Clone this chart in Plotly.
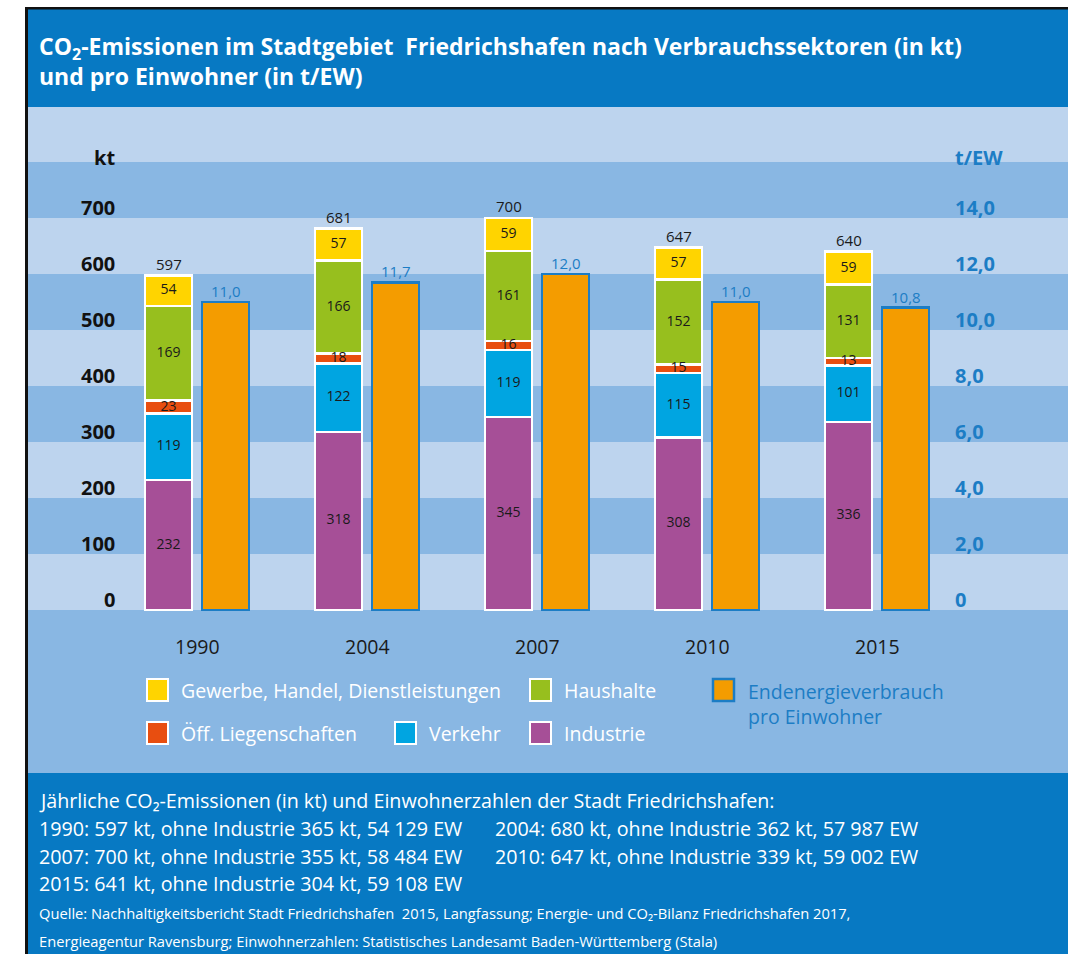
import plotly.graph_objects as go

# ---------------- data ----------------
years = ["1990", "2004", "2007", "2010", "2015"]
industrie = [232, 318, 345, 308, 336]
verkehr = [119, 122, 119, 115, 101]
oeff = [23, 18, 16, 15, 13]
haushalte = [169, 166, 161, 152, 131]
gewerbe = [54, 57, 59, 57, 59]
pro_kopf = [11.0, 11.7, 12.0, 11.0, 10.8]

kt_ticks = [0, 100, 200, 300, 400, 500, 600, 700]
tew_ticks = [0, 2, 4, 6, 8, 10, 12, 14]

sum_total = [597, 680, 700, 647, 641]
sum_ohne_ind = [365, 362, 355, 339, 304]
sum_ew = ["54 129", "57 987", "58 484", "59 002", "59 108"]

series = [
    ("Industrie", industrie, "#A64F97"),
    ("Verkehr", verkehr, "#00A5E1"),
    ("Öff. Liegenschaften", oeff, "#E84E10"),
    ("Haushalte", haushalte, "#97BF1E"),
    ("Gewerbe, Handel, Dienstleistungen", gewerbe, "#FFD400"),
]
ORANGE = "#F49C00"
BLUE_T = "#1C7DC5"
LIGHT = "#BDD4EE"
DARK = "#89B7E3"
HEADER = "#0779C3"

W, H = 1068, 954
FONT = "Open Sans"

# pixel geometry -> axis ranges
X0PX, XSTEP = 197.0, 170.0
Y0PX, PX100 = 610.0, 56.0
xr = [-X0PX / XSTEP, (W - X0PX) / XSTEP]
yr = [-(H - Y0PX) / (PX100 / 100), Y0PX / (PX100 / 100)]
KT_PER_TEW = 50.0
yr2 = [yr[0] / KT_PER_TEW, yr[1] / KT_PER_TEW]

BW = 47 / XSTEP
OFF_S = -52 / XSTEP
OFF_O = 5 / XSTEP


def px(x):
    return x / W


def py(y):
    return 1 - y / H


def ptext(x, y, text, size, color, xanchor="left", align="left"):
    return dict(x=px(x), y=py(y), xref="paper", yref="paper", xanchor=xanchor,
                yanchor="middle", align=align, text=text, showarrow=False,
                font=dict(family=FONT, size=size, color=color))


xs = list(range(len(years)))
fig = go.Figure()

# stacked sector bars
for name, vals, col in series:
    fig.add_trace(go.Bar(
        x=xs, y=vals, name=name, width=BW, offset=OFF_S,
        marker=dict(color=col, line=dict(color="white", width=2.5)),
        hoverinfo="skip", showlegend=False,
    ))

# per-capita bars (right axis)
fig.add_trace(go.Bar(
    x=xs, y=pro_kopf, yaxis="y2", width=BW, offset=OFF_O,
    marker=dict(color=ORANGE, line=dict(color=BLUE_T, width=2.5)),
    hoverinfo="skip", showlegend=False,
))

# segment labels
cum = [0] * len(years)
lx, ly, lt = [], [], []
for name, vals, col in series:
    for i, v in enumerate(vals):
        lx.append(i + OFF_S + BW / 2)
        ly.append(cum[i] + v / 2)
        lt.append(str(v))
        cum[i] += v
fig.add_trace(go.Scatter(
    x=lx, y=ly, text=lt, mode="text", cliponaxis=False,
    textfont=dict(family=FONT, size=14, color="#1a1a1a"),
    hoverinfo="skip", showlegend=False,
))

annotations = []
# totals above stacked bars
for i, t in enumerate(cum):
    annotations.append(dict(
        x=i + OFF_S + BW / 2, y=t, xref="x", yref="y", text=str(t), yanchor="middle",
        showarrow=False, yshift=12, font=dict(family=FONT, size=15, color="#1a1a1a"),
    ))
# per-capita values
for i, v in enumerate(pro_kopf):
    annotations.append(dict(
        x=i + OFF_O + BW / 2, y=v, xref="x", yref="y2", yanchor="middle",
        text=f"{v:.1f}".replace(".", ","),
        showarrow=False, yshift=11, font=dict(family=FONT, size=15, color=BLUE_T),
    ))
# year labels
for i, yv in enumerate(years):
    annotations.append(dict(
        x=i, y=0, xref="x", yref="y", text=yv, showarrow=False, yshift=-36, yanchor="middle",
        font=dict(family=FONT, size=19.5, color="#1a1a1a"),
    ))
# left axis
for t in kt_ticks:
    annotations.append(dict(
        x=px(117), y=t, xref="paper", yref="y", text=f"<b>{t}</b>", xanchor="right",
        yanchor="middle", showarrow=False, yshift=11,
        font=dict(family=FONT, size=20, color="#111"),
    ))
annotations.append(ptext(117, 157, "<b>kt</b>", 20, "#111", xanchor="right"))
# right axis
for t in tew_ticks:
    lab = "0" if t == 0 else f"{t:.1f}".replace(".", ",")
    annotations.append(dict(
        x=px(953), y=t, xref="paper", yref="y2", text=f"<b>{lab}</b>", xanchor="left",
        yanchor="middle", showarrow=False, yshift=11,
        font=dict(family=FONT, size=20, color=BLUE_T),
    ))
annotations.append(ptext(953, 157, "<b>t/EW</b>", 20, BLUE_T))

# title
annotations.append(ptext(
    37, 61,
    "<b>CO<sub>2</sub>-Emissionen im Stadtgebiet  Friedrichshafen nach Verbrauchssektoren (in kt)"
    "<br>und pro Einwohner (in t/EW)</b>",
    23, "white"))

shapes = []
XR = 1.02
# background
shapes.append(dict(type="rect", xref="paper", yref="paper", x0=px(28), x1=XR, y0=py(773), y1=py(107),
                   fillcolor=DARK, line=dict(width=0), layer="below"))
for k in range(0, 9, 2):
    shapes.append(dict(type="rect", xref="paper", yref="y", x0=px(28), x1=XR, y0=k * 100, y1=k * 100 + 100,
                       fillcolor=LIGHT, line=dict(width=0), layer="below"))
shapes.append(dict(type="rect", xref="paper", yref="paper", x0=px(28), x1=XR, y0=py(107), y1=py(9),
                   fillcolor=HEADER, line=dict(width=0), layer="below"))
shapes.append(dict(type="rect", xref="paper", yref="paper", x0=px(28), x1=XR, y0=-0.02, y1=py(773),
                   fillcolor=HEADER, line=dict(width=0), layer="below"))
shapes.append(dict(type="rect", xref="paper", yref="paper", x0=px(25), x1=px(28), y0=-0.02, y1=py(7),
                   fillcolor="#111", line=dict(width=0), layer="below"))
shapes.append(dict(type="rect", xref="paper", yref="paper", x0=px(25), x1=XR, y0=py(9.5), y1=py(7),
                   fillcolor="#111", line=dict(width=0), layer="below"))

# legend
leg = [
    (147, 690, "#FFD400", "Gewerbe, Handel, Dienstleistungen"),
    (530, 690, "#97BF1E", "Haushalte"),
    (147, 733, "#E84E10", "Öff. Liegenschaften"),
    (395, 733, "#00A5E1", "Verkehr"),
    (530, 733, "#A64F97", "Industrie"),
]
for x0, yc, col, txt in leg:
    shapes.append(dict(type="rect", xref="paper", yref="paper", x0=px(x0), x1=px(x0 + 21),
                       y0=py(yc + 11), y1=py(yc - 11), fillcolor=col, line=dict(color="white", width=2)))
    annotations.append(ptext(x0 + 32, yc, txt, 19.5, "white"))
shapes.append(dict(type="rect", xref="paper", yref="paper", x0=px(713), x1=px(734),
                   y0=py(701), y1=py(679), fillcolor=ORANGE, line=dict(color=BLUE_T, width=2.5)))
annotations.append(ptext(746, 704, "Endenergieverbrauch<br>pro Einwohner", 19.5, BLUE_T))

# bottom text
annotations.append(ptext(37, 800, "Jährliche CO₂-Emissionen (in kt) und Einwohnerzahlen der Stadt Friedrichshafen:",
                         19.7, "white"))
pos = [(37, 828), (493, 828), (37, 856), (493, 856), (37, 883)]
for i, (xp, yp) in enumerate(pos):
    annotations.append(ptext(
        xp, yp, f"{years[i]}: {sum_total[i]} kt, ohne Industrie {sum_ohne_ind[i]} kt, {sum_ew[i]} EW",
        19.7, "white"))
annotations.append(ptext(37, 913, "Quelle: Nachhaltigkeitsbericht Stadt Friedrichshafen  2015, Langfassung; "
                                  "Energie- und CO₂-Bilanz Friedrichshafen 2017,", 14.7, "white"))
annotations.append(ptext(37, 941, "Energieagentur Ravensburg; Einwohnerzahlen: Statistisches Landesamt "
                                  "Baden-Württemberg (Stala)", 14.7, "white"))

fig.update_layout(
    width=W, height=H, margin=dict(l=0, r=0, t=0, b=0),
    paper_bgcolor="white", plot_bgcolor="rgba(0,0,0,0)",
    barmode="stack", showlegend=False,
    xaxis=dict(range=xr, visible=False, fixedrange=True, domain=[0, 1]),
    yaxis=dict(range=yr, visible=False, fixedrange=True, domain=[0, 1]),
    yaxis2=dict(range=yr2, visible=False, fixedrange=True, overlaying="y", side="right"),
    shapes=shapes, annotations=annotations,
    font=dict(family=FONT),
)
fig.write_html("out.html", config={"displayModeBar": False},
               post_script="document.body.style.margin='0px';document.body.style.overflow='hidden';"
                           "document.documentElement.style.overflow='hidden';")
